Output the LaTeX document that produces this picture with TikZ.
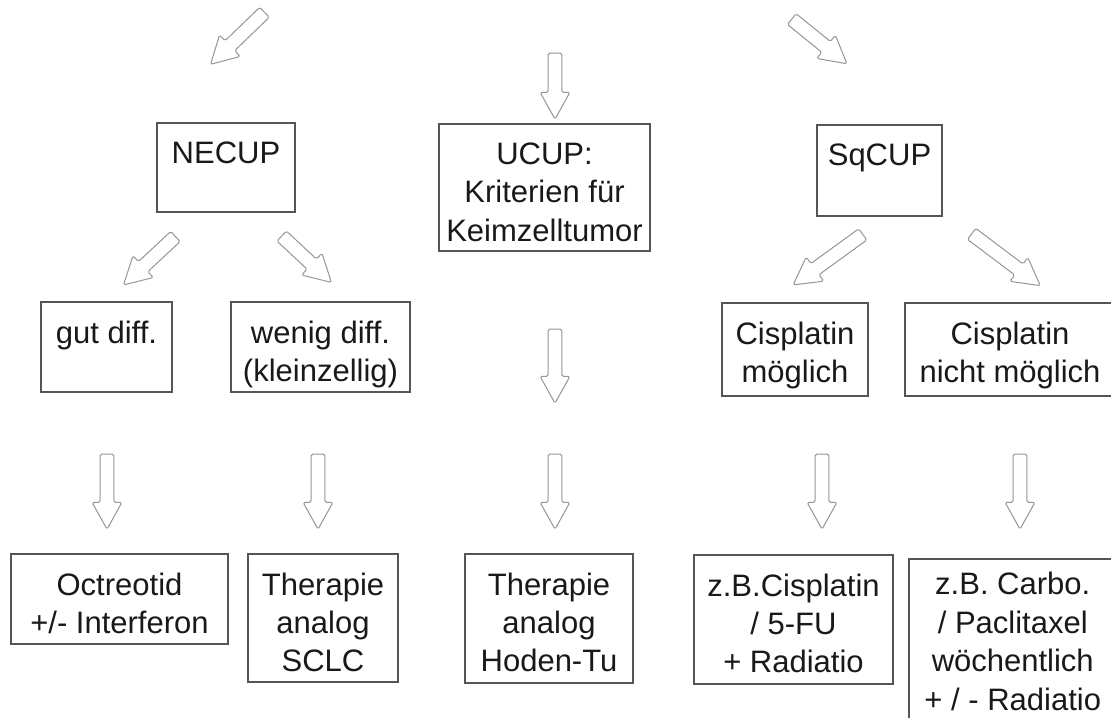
\documentclass[tikz,border=0pt]{standalone}
\usepackage{fontspec}
\setmainfont{Liberation Sans}
\usepackage{tikz}
\usetikzlibrary{shapes,arrows}
\usetikzlibrary{positioning}

\definecolor{boxline}{RGB}{85,85,85}
\definecolor{arrline}{RGB}{150,150,150}
\definecolor{txt}{RGB}{25,25,25}

\tikzset{
	box/.style={draw=boxline, line width=0.75pt, inner sep=0pt},
	boxtext/.style={anchor=north, yshift=-9.5pt, inner sep=0pt, align=center,
		text=txt, font=\fontsize{15.5}{19.2}\selectfont},
	size/.style 2 args={minimum width=#1*0.5pt, minimum height=#2*0.5pt},
	harrow/.style={single arrow, draw=arrline, line width=0.5pt, fill=white,
		inner sep=3.2pt, single arrow head extend=4pt,
		single arrow tip angle=58, rounded corners=0.8pt, minimum height=#1*0.5pt},
	harrow/.default=74
}

\begin{document}
\begin{tikzpicture}[x=0.5pt,y=-0.5pt]

	\clip (0,0) rectangle (1111,717);
	\fill[white] (0,0) rectangle (1111,717);

	% first level
	\node [box, size={138}{89}, label={[boxtext]north:NECUP}] (necup) at (226,167.5) {};
	\node [box, size={211}{127}, label={[boxtext]north:{UCUP:\\Kriterien für\\Keimzelltumor}}] (ucup) at (544.5,187.5) {};
	\node [box, size={125}{91}, label={[boxtext]north:SqCUP}] (sqcup) at (879.5,170.5) {};

	% second level
	\node [box, size={131}{90}, label={[boxtext]north:gut diff.}] (gut) at (106.5,347) {};
	\node [box, size={179}{90}, label={[boxtext]north:{wenig diff.\\(kleinzellig)}}] (wenig) at (320.5,347) {};
	\node [box, size={146}{93}, label={[boxtext]north:{Cisplatin\\möglich}}] (cism) at (795,349.5) {};
	\node [box, size={210}{93}, label={[boxtext]north:{Cisplatin\\nicht möglich}}] (cisn) at (1010,349.5) {};

	% therapy
	\node [box, size={217}{90}, label={[boxtext]north:{Octreotid\\+/- Interferon}}] (octreo) at (119.5,599) {};
	\node [box, size={150}{128}, label={[boxtext]north:{Therapie\\analog\\SCLC}}] (sclc) at (323,618) {};
	\node [box, size={168}{129}, label={[boxtext]north:{Therapie\\analog\\Hoden-Tu}}] (hoden) at (549,618.5) {};
	\node [box, size={199}{129}, label={[boxtext]north:{z.B.Cisplatin\\/ 5-FU\\+ Radiatio}}] (zbcis) at (793.5,619.5) {};
	\node [box, size={208}{170}, anchor=north west,
		label={[boxtext, yshift=2.5pt]north:{z.B. Carbo.\\/ Paclitaxel\\wöchentlich\\+ / - Radiatio}}] (carbo) at (908,558) {};

	% block arrows
	\node [harrow=75, rotate=-136] (a1) at (242,34) {};
	\node [harrow=66, rotate=-90] (a2) at (555,80) {};
	\node [harrow=71, rotate=-39] (a3) at (814.5,37.5) {};
	\node [harrow=71, rotate=-137] (a4) at (154,256.5) {};
	\node [harrow=68, rotate=-43] (a5) at (302,255) {};
	\node [harrow=74, rotate=-90] (a6) at (555,360) {};
	\node [harrow=86, rotate=-144] (a7) at (833,256) {};
	\node [harrow=86, rotate=-37] (a8) at (1001,256) {};
	\foreach \x/\n in {107/b1,318/b2,555/b3,822/b4,1020/b5}
		\node [harrow=75, rotate=-90] (\n) at (\x,485.5) {};

\end{tikzpicture}
\end{document}
